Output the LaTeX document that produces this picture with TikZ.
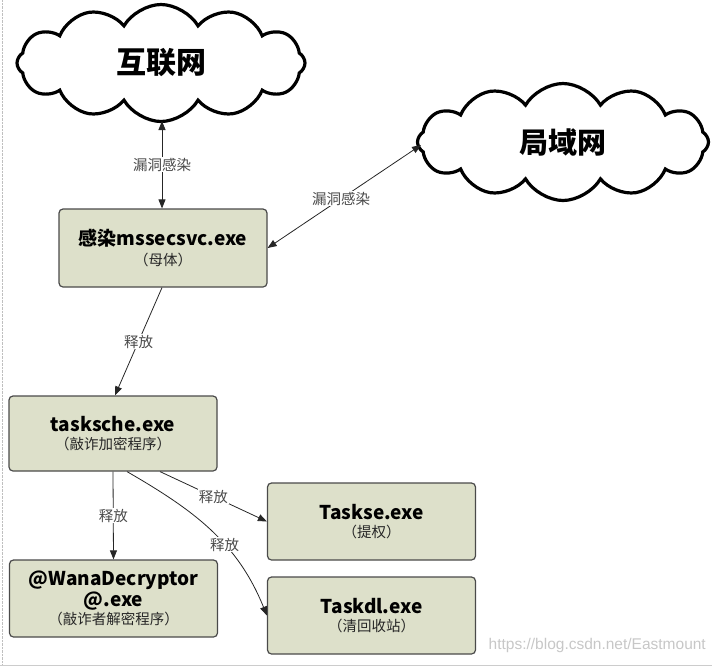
\documentclass[tikz,border=0pt]{standalone}
\usepackage{fontspec}
\setmainfont{Noto Sans CJK SC}
\newfontfamily\wmfont{Liberation Sans}
\usetikzlibrary{shapes.symbols,arrows.meta}
\definecolor{boxfill}{HTML}{DDE0CA}
\definecolor{boxline}{HTML}{4A4A4A}
\definecolor{lblgray}{HTML}{4A4A4A}
\tikzset{
  netcloud/.style={cloud, draw=black, line width=3.2pt, fill=white, cloud puffs=12, cloud puff arc=120, cloud ignores aspect, inner sep=0pt},
  procbox/.style={draw=boxline, fill=boxfill, line width=1.2pt, rounded corners=4pt, minimum width=208pt, align=center, inner sep=0pt},
  arr/.style={draw=black!85, line width=0.8pt, -{Triangle[length=9pt,width=7pt]}},
  darr/.style={draw=black!85, line width=0.8pt, {Triangle[length=9pt,width=7pt]}-{Triangle[length=9pt,width=7pt]}},
  lbl/.style={fill=white, inner sep=1pt, text=lblgray, font=\fontsize{14.5}{16}\selectfont}
}
\newcommand{\ttlline}[1]{{\fontsize{19}{21}\bfseries\selectfont #1}}
\newcommand{\subline}[1]{{\fontsize{14.5}{17}\selectfont\color{black!85}#1}}
\begin{document}
\begin{tikzpicture}[x=1pt,y=1pt]
\useasboundingbox (0,0) rectangle (712,-667);
\draw[black!25, densely dotted] (2,0) -- (2,-664);
\draw[black!20, line width=1pt] (0,-665) -- (712,-665);

\node[netcloud, minimum width=288pt, minimum height=117pt] (inet) at (161,-63) {\fontsize{30}{32}\bfseries\selectfont 互联网};
\node[netcloud, minimum width=291pt, minimum height=117pt] (lan) at (563,-142) {\fontsize{29}{31}\bfseries\selectfont 局域网};

\node[procbox, minimum height=78pt] (b1) at (163,-248) {\ttlline{感染mssecsvc.exe}\\[4pt]\subline{（母体）}};
\node[procbox, minimum height=75pt] (b2) at (113,-433.5) {\ttlline{tasksche.exe}\\[4pt]\subline{（敲诈加密程序）}};
\node[procbox, minimum height=77pt] (b3) at (371.5,-521.5) {\ttlline{Taskse.exe}\\[4pt]\subline{（提权）}};
\node[procbox, minimum height=77pt] (b4) at (113.5,-598.5) {\ttlline{@WanaDecryptor}\\[1pt]\ttlline{@.exe}\\[1pt]\subline{（敲诈者解密程序）}};
\node[procbox, minimum height=77pt] (b5) at (371.5,-615.5) {\ttlline{Taskdl.exe}\\[4pt]\subline{（清回收站）}};

\coordinate (inetb) at (162,-121);
\coordinate (lanw) at (421,-145);
\draw[darr] (inetb) -- node[lbl, pos=0.5]{漏洞感染} (inetb |- b1.north);
\draw[darr] (b1.east) -- node[lbl, pos=0.48]{漏洞感染} (lanw);
\draw[arr] ([xshift=-1pt]b1.south) -- node[lbl]{释放} ([xshift=2pt]b2.north);
\draw[arr] (b2.south) -- node[lbl]{释放} (b4.north);
\draw[arr] ([xshift=47pt]b2.south) -- node[lbl, pos=0.5]{释放} (b3.west);
\draw[arr] ([xshift=14pt]b2.south) to[out=-30, in=112] node[lbl, pos=0.6]{释放} (b5.west);

\node[text=black!22, font=\wmfont\fontsize{15.5}{17}\selectfont, anchor=east, inner sep=0pt] (wm) at (706,-645) {https://blog.csdn.net/Eastmount};
\end{tikzpicture}
\end{document}
